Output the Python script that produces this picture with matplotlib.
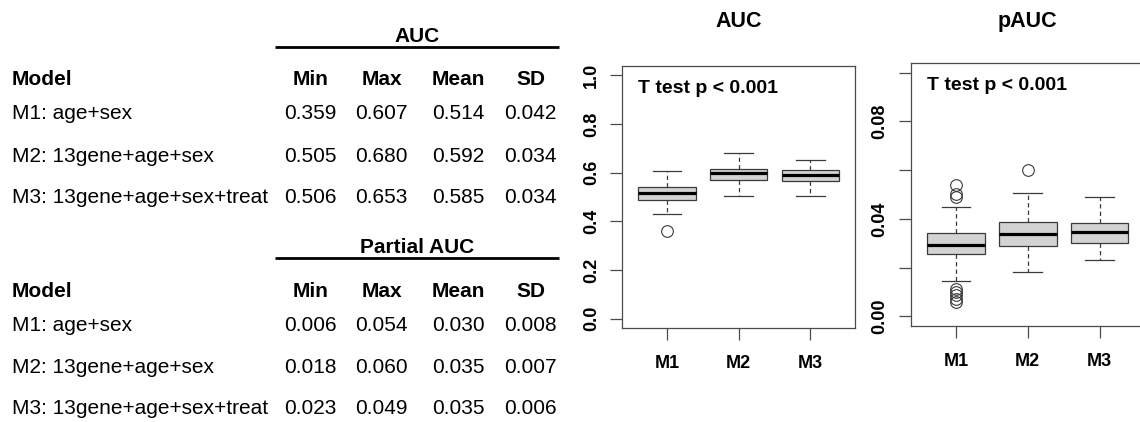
import matplotlib
matplotlib.use("Agg")
import matplotlib.pyplot as plt

plt.rcParams['font.family'] = ['Liberation Sans', 'DejaVu Sans']

# ---------------- data ----------------
models = ["M1: age+sex", "M2: 13gene+age+sex", "M3: 13gene+age+sex+treat"]
stat_cols = ["Min", "Max", "Mean", "SD"]

auc_min = [0.359, 0.505, 0.506]
auc_max = [0.607, 0.680, 0.653]
auc_mean = [0.514, 0.592, 0.585]
auc_sd = [0.042, 0.034, 0.034]

pauc_min = [0.006, 0.018, 0.023]
pauc_max = [0.054, 0.060, 0.049]
pauc_mean = [0.030, 0.035, 0.035]
pauc_sd = [0.008, 0.007, 0.006]

box_labels = ["M1", "M2", "M3"]

# AUC boxplot summaries
auc_whislo = [0.429, 0.505, 0.506]
auc_q1 = [0.4875, 0.570, 0.565]
auc_med = [0.518, 0.597, 0.592]
auc_q3 = [0.542, 0.617, 0.611]
auc_whishi = [0.607, 0.680, 0.653]
auc_fliers = [[0.359], [], []]

# pAUC boxplot summaries
pauc_whislo = [0.0145, 0.018, 0.023]
pauc_q1 = [0.0257, 0.0288, 0.0302]
pauc_med = [0.0291, 0.0337, 0.0345]
pauc_q3 = [0.0341, 0.0389, 0.0382]
pauc_whishi = [0.0447, 0.0505, 0.049]
pauc_fliers = [[0.054, 0.0502, 0.0488, 0.0113, 0.0100, 0.0086, 0.0072, 0.006],
               [0.060], []]

auc_yticks = [0.0, 0.2, 0.4, 0.6, 0.8, 1.0]
auc_yticklabels = ["0.0", "0.2", "0.4", "0.6", "0.8", "1.0"]
pauc_yticks = [0.00, 0.02, 0.04, 0.06, 0.08, 0.10]
pauc_yticklabels = ["0.00", "", "0.04", "", "0.08", ""]

ttest_text = "T test p < 0.001"

# ---------------- figure ----------------
W, H = 1140, 422
fig = plt.figure(figsize=(W / 100, H / 100), dpi=100)

# table area (pixel coordinate system)
tab = fig.add_axes([0, 0, 1, 1])
tab.set_xlim(0, W)
tab.set_ylim(H, 0)
tab.axis("off")

FS = 15
col_x = [310.7, 381.7, 458.2, 530.5]
label_x = 11.5


def draw_table(title, title_base, line_y, header_base, row_bases, cols):
    tab.text(417, title_base, title, ha="center", va="baseline",
             fontsize=FS, fontweight="bold")
    tab.plot([275, 559], [line_y, line_y], color="black", lw=2.0,
             solid_capstyle="butt")
    tab.text(label_x, header_base, "Model", ha="left", va="baseline",
             fontsize=FS, fontweight="bold")
    for cx, name in zip(col_x, stat_cols):
        tab.text(cx, header_base, name, ha="center", va="baseline",
                 fontsize=FS, fontweight="bold")
    for i, (m, yb) in enumerate(zip(models, row_bases)):
        tab.text(label_x, yb, m, ha="left", va="baseline", fontsize=FS)
        for cx, col in zip(col_x, cols):
            tab.text(cx, yb, f"{col[i]:.3f}", ha="center", va="baseline",
                     fontsize=FS)


draw_table("AUC", 41.7, 46.7, 85.0, [119.3, 161.7, 203.3],
           [auc_min, auc_max, auc_mean, auc_sd])
draw_table("Partial AUC", 253.3, 257.7, 296.7, [330.7, 372.7, 414.3],
           [pauc_min, pauc_max, pauc_mean, pauc_sd])

# ---------------- boxplots ----------------
EDGE = "#3a3a3a"
FRAME = "#4a4a4a"


def make_stats(lo, q1, med, q3, hi, fl):
    return [dict(whislo=a, q1=b, med=c, q3=d, whishi=e, fliers=f)
            for a, b, c, d, e, f in zip(lo, q1, med, q3, hi, fl)]


def draw_box(ax, stats, ylim, yticks, yticklabels, title, title_pad):
    ax.bxp(stats, positions=[1, 2, 3], widths=0.8, capwidths=0.4,
           patch_artist=True, showfliers=True,
           boxprops=dict(facecolor="#D3D3D3", edgecolor=EDGE, linewidth=0.9),
           medianprops=dict(color="black", linewidth=2.3,
                            solid_capstyle="butt"),
           whiskerprops=dict(color=EDGE, linewidth=0.9,
                             linestyle=(0, (3.5, 2.5))),
           capprops=dict(color=EDGE, linewidth=0.9),
           flierprops=dict(marker="o", markerfacecolor="none",
                           markeredgecolor=EDGE, markersize=8.4,
                           markeredgewidth=0.8))
    ax.set_xlim(0.38, 3.62)
    ax.set_ylim(*ylim)
    ax.set_xticks([1, 2, 3], box_labels, fontsize=13, fontweight="bold")
    ax.set_yticks(yticks, yticklabels, fontsize=13, fontweight="bold",
                  rotation=90, va="center")
    ax.tick_params(axis="x", length=8.3, width=0.9, color=FRAME, pad=11)
    ax.tick_params(axis="y", length=8.3, width=0.9, color=FRAME, pad=8)
    for sp in ax.spines.values():
        sp.set_color(FRAME)
        sp.set_linewidth(0.9)
    ax.set_title(title, fontsize=15.5, fontweight="bold", pad=title_pad)
    ax.text(0.068, 0.897, ttest_text, transform=ax.transAxes, ha="left",
            va="baseline", fontsize=14, fontweight="bold")


ax1 = fig.add_axes([622.4 / W, 1 - 328.3 / H, 232.6 / W, 262.6 / H])
draw_box(ax1,
         make_stats(auc_whislo, auc_q1, auc_med, auc_q3, auc_whishi,
                    auc_fliers),
         (-0.04, 1.04), auc_yticks, auc_yticklabels, "AUC", 28)

ax2 = fig.add_axes([911.3 / W, 1 - 326.0 / H, 233.0 / W, 263.0 / H])
draw_box(ax2,
         make_stats(pauc_whislo, pauc_q1, pauc_med, pauc_q3, pauc_whishi,
                    pauc_fliers),
         (-0.004, 0.104), pauc_yticks, pauc_yticklabels, "pAUC", 26)

fig.savefig("out.png", dpi=100)
